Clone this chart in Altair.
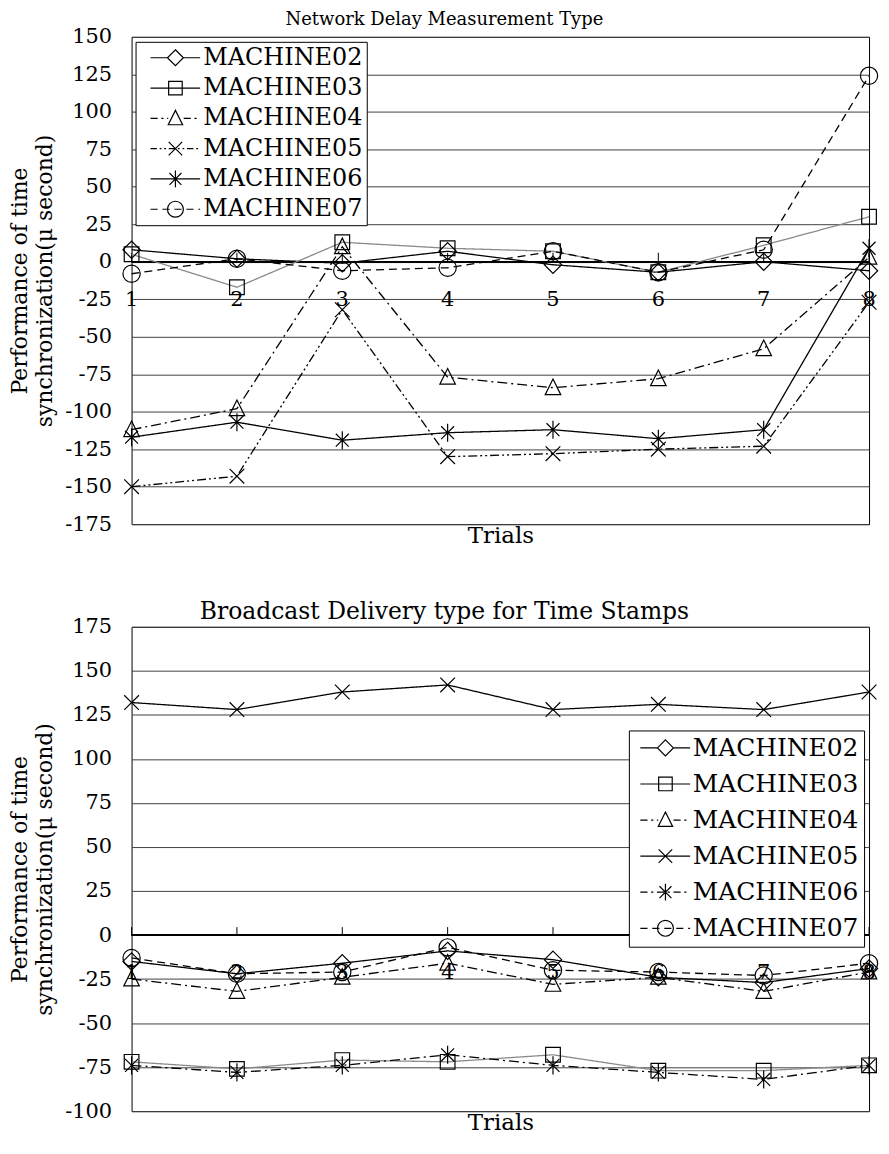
import altair as alt
import pandas as pd

SERIF = "DejaVu Serif"

trials = [1, 2, 3, 4, 5, 6, 7, 8]
machines = ["MACHINE02", "MACHINE03", "MACHINE04", "MACHINE05", "MACHINE06", "MACHINE07"]

# Network Delay Measurement Type
nd_m02 = [8, 2, -1, 7, -2, -7, 0, -6]
nd_m03 = [5, -17, 13, 9, 7, -7, 11, 30]
nd_m04 = [-112, -98, 10, -77, -84, -78, -58, 3]
nd_m05 = [-150, -143, -32, -130, -128, -125, -123, -27]
nd_m06 = [-117, -107, -119, -114, -112, -118, -112, 9]
nd_m07 = [-8, 2, -6, -4, 7, -7, 8, 124]

# Broadcast Delivery type for Time Stamps
bd_m02 = [-15, -22, -16, -9, -14, -24, -27, -19]
bd_m03 = [-72, -76, -71, -72, -68, -77, -77, -74]
bd_m04 = [-25, -32, -24, -16, -28, -24, -32, -21]
bd_m05 = [132, 128, 138, 142, 128, 131, 128, 138]
bd_m06 = [-74, -78, -74, -68, -74, -78, -82, -74]
bd_m07 = [-13, -22, -21, -7, -20, -21, -23, -16]

nd_ticks = list(range(-175, 151, 25))
bd_ticks = list(range(-100, 176, 25))

marker_kinds = ["diamond", "square", "triangle", "x", "asterisk", "circle"]


def r(v):
    return f"{round(v, 3):g}"


def marker_path(kind, cx, h):
    if kind == "diamond":
        return f"M{r(cx)},{r(-h)}L{r(cx+h)},0L{r(cx)},{r(h)}L{r(cx-h)},0Z"
    if kind == "square":
        s = h * 0.85
        return f"M{r(cx-s)},{r(-s)}H{r(cx+s)}V{r(s)}H{r(cx-s)}Z"
    if kind == "triangle":
        return f"M{r(cx)},{r(-h)}L{r(cx+h*0.9)},{r(h*0.8)}H{r(cx-h*0.9)}Z"
    if kind == "x":
        s = h * 0.85
        return f"M{r(cx-s)},{r(-s)}L{r(cx+s)},{r(s)}M{r(cx-s)},{r(s)}L{r(cx+s)},{r(-s)}"
    if kind == "asterisk":
        s = h * 0.75
        return (f"M{r(cx-s)},{r(-s)}L{r(cx+s)},{r(s)}M{r(cx-s)},{r(s)}L{r(cx+s)},{r(-s)}"
                f"M{r(cx)},{r(-h*1.05)}V{r(h*1.05)}")
    return f"M{r(cx-h)},0A{r(h)},{r(h)},0,1,1,{r(cx+h)},0A{r(h)},{r(h)},0,1,1,{r(cx-h)},0Z"


def dash_segments(x0, x1, pattern):
    if not pattern:
        return [(x0, x1)]
    segs, p, i = [], x0, 0
    while p < x1 - 1e-9:
        q = min(p + pattern[i % len(pattern)], x1)
        if i % 2 == 0:
            segs.append((p, q))
        p, i = q, i + 1
    return segs


def legend_path(kind, pattern, x0, x1, cx, h):
    segs = dash_segments(x0, x1, pattern)
    if kind in ("diamond", "triangle"):
        a, b = cx - h * 0.9, cx + h * 0.9
        cut = []
        for s, e in segs:
            if e <= a or s >= b:
                cut.append((s, e))
            else:
                if s < a:
                    cut.append((s, a))
                if e > b:
                    cut.append((b, e))
        segs = cut
    line = "".join(f"M{r(s)},0H{r(e)}" for s, e in segs if e - s > 0.05)
    return line + marker_path(kind, cx, h)


SOLID, DASH, DASHDOT, DASHDOTDOT = [], [0.9, 0.6], [0.9, 0.45, 0.28, 0.45], [0.8, 0.35, 0.22, 0.35, 0.22, 0.35]
PX = {"solid": [1, 0], "dash": [8, 5], "dashdot": [10, 4, 2, 4], "dashdotdot": [9, 3, 2, 3, 2, 3]}
UNITS = {"solid": SOLID, "dash": DASH, "dashdot": DASHDOT, "dashdotdot": DASHDOTDOT}

chart_markers = [marker_path(k, 0, 1) for k in marker_kinds]
line_colors = ["black", "#8a8a8a", "black", "black", "black", "black"]


def long_df(series):
    rows = []
    for m, vals in zip(machines, series):
        for t, v in zip(trials, vals):
            rows.append({"trial": t, "machine": m, "value": v})
    return pd.DataFrame(rows)


def panel(df, title, title_size, title_offset, ydomain, yticks, styles, width, height, tick_len,
          leg_x, leg_y, leg_font, leg_row, leg_pad, leg_geom, leg_label_offset):
    x_scale = alt.Scale(domain=[1, 8], nice=False, zero=False)
    y_scale = alt.Scale(domain=ydomain, nice=False, zero=False)
    x_axis = alt.Axis(title="Trials", labels=False, ticks=False, grid=False, domain=False,
                      titleFont=SERIF, titleFontSize=23, titleFontWeight="normal",
                      titleColor="black", titlePadding=0)
    y_axis = alt.Axis(values=yticks, tickCount=40, title=["Performance of time", "synchronization(μ second)"],
                      grid=True, gridColor="#404040", gridWidth=1, ticks=False, domain=False,
                      labelPadding=20, labelFontSize=21, labelFont=SERIF, labelColor="black",
                      labelExpr="'' + datum.value", labelOverlap=False,
                      titleFont=SERIF, titleColor="black",
                      titleFontSize=22, titleFontWeight="normal", titleLineHeight=25,
                      titlePadding=8)
    tdf = pd.DataFrame({"trial": trials})
    ticks = alt.Chart(tdf).mark_rule(color="black", strokeWidth=1).encode(
        x=alt.X("trial:Q", scale=x_scale, axis=x_axis),
        y=alt.Y(datum=0, type="quantitative", scale=y_scale, axis=y_axis),
        y2=alt.datum(tick_len))
    zero = alt.Chart(tdf).mark_rule(color="black", strokeWidth=1.2).encode(y=alt.datum(0))
    labels = alt.Chart(tdf).mark_text(dy=38, fontSize=21, font=SERIF, color="black").encode(
        x="trial:Q", y=alt.datum(0), text="trial:N")
    lines = alt.Chart(df).mark_line(strokeWidth=1.3).encode(
        x=alt.X("trial:Q", scale=x_scale, axis=x_axis),
        y=alt.Y("value:Q", scale=y_scale, axis=y_axis),
        color=alt.Color("machine:N", scale=alt.Scale(domain=machines, range=line_colors), legend=None),
        strokeDash=alt.StrokeDash("machine:N", scale=alt.Scale(domain=machines, range=[PX[s] for s in styles]),
                                  legend=None))
    points = alt.Chart(df).mark_point(filled=False, size=300, strokeWidth=1.2, color="black", opacity=1).encode(
        x="trial:Q", y="value:Q",
        shape=alt.Shape("machine:N", scale=alt.Scale(domain=machines, range=chart_markers), legend=None))
    x0, x1, cx, h = leg_geom
    leg_paths = [legend_path(k, UNITS[s], x0, x1, cx, h) for k, s in zip(marker_kinds, styles)]
    legend_layer = alt.Chart(df).transform_filter("datum.trial == 4").mark_point(
        filled=False, size=1, opacity=0, color="black").encode(
        x="trial:Q", y="value:Q",
        shape=alt.Shape("machine:N", scale=alt.Scale(domain=machines, range=leg_paths),
                        legend=alt.Legend(title=None, orient="none", legendX=leg_x, legendY=leg_y,
                                          symbolSize=256, symbolStrokeWidth=1.2, symbolStrokeColor="black",
                                          symbolFillColor="transparent", symbolOpacity=1,
                                          labelFont=SERIF, labelFontSize=leg_font, labelColor="black",
                                          labelOffset=leg_label_offset, labelLimit=400,
                                          rowPadding=leg_row, padding=leg_pad,
                                          strokeColor="black", fillColor="white")))
    return alt.layer(ticks, zero, labels, lines, points, legend_layer).resolve_scale(
        shape="independent").properties(
        width=width, height=height,
        title=alt.TitleParams(title, font=SERIF, fontSize=title_size, fontWeight="normal",
                              anchor="middle", frame="bounds", offset=title_offset, color="black"))


nd_df = long_df([nd_m02, nd_m03, nd_m04, nd_m05, nd_m06, nd_m07])
bd_df = long_df([bd_m02, bd_m03, bd_m04, bd_m05, bd_m06, bd_m07])

top = panel(nd_df, "Network Delay Measurement Type", 18, -3, [-175, 150], nd_ticks,
            ["solid", "solid", "dashdot", "dashdotdot", "solid", "dash"],
            740, 489, 6, 4, 5, 24, 6.4, 4, (-0.125, 6.1, 3.0, 1.0), 40)
bottom = panel(bd_df, "Broadcast Delivery type for Time Stamps", 23.5, -8, [-100, 175], bd_ticks,
               ["solid", "solid", "dashdot", "solid", "dashdot", "dash"],
               740, 486, 4.5, 499, 104, 25, 10.2, 5, (-0.75, 5.5, 2.4, 1.0), 34)

chart = alt.vconcat(top, bottom, spacing=52).resolve_scale(
    x="independent", y="independent", color="independent", strokeDash="independent", shape="independent"
).properties(
    padding={"left": 0, "right": 0, "top": 0, "bottom": 0}, background="white"
).configure(font=SERIF).configure_view(stroke="black", strokeWidth=1).configure_axis(
    labelFont=SERIF, titleFont=SERIF, labelColor="black", titleColor="black"
).configure_legend(labelFont=SERIF).configure_title(font=SERIF)

chart.save("out.html", embed_options={"renderer": "svg", "actions": False})
